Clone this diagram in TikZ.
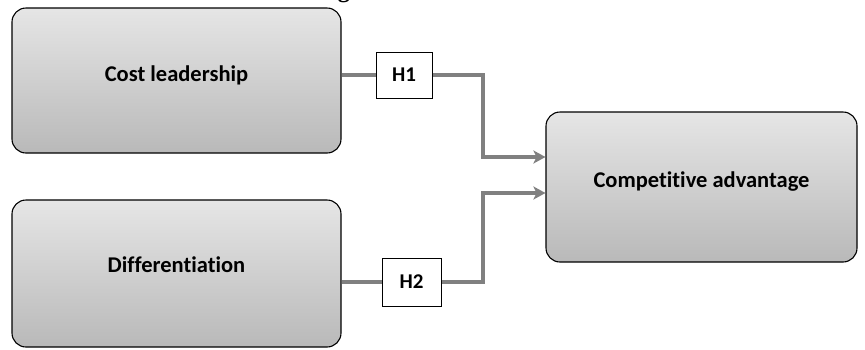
\documentclass[tikz,border=0pt]{standalone}
\usepackage{fontspec}
\setmainfont{Carlito}[RawFeature={-liga;-dlig}]
\newfontfamily\titlefont{Liberation Serif}
\usetikzlibrary{arrows.meta}
\begin{document}
\begin{tikzpicture}[x=1pt,y=-1pt,
  bigbox/.style={draw=black, line width=1.1pt, rounded corners=14pt, inner sep=0pt,
    top color=gray!20, bottom color=gray!55, font=\bfseries\fontsize{22.5}{26}\selectfont},
  hbox/.style={draw=black, line width=1pt, fill=white, inner sep=0pt,
    font=\bfseries\fontsize{21}{24}\selectfont},
  conn/.style={draw=black!50, line width=3.5pt},
  arr/.style={conn, -{Stealth[length=12pt,width=13pt,inset=3pt]}}]
\useasboundingbox (0,0) rectangle (865,349);
\node[anchor=base, font=\titlefont\bfseries\fontsize{24}{28}\selectfont] (title) at (450,-2.5) {Figure 1: Research Model};
\node[bigbox, minimum width=329pt, minimum height=145pt] (cost) at (176.5,80.5) {\raisebox{13pt}{Cost leadership}};
\node[bigbox, minimum width=329pt, minimum height=147pt] (diff) at (176.5,273.5) {\raisebox{17pt}{Differentiation}};
\node[bigbox, minimum width=311pt, minimum height=150pt] (comp) at (701.5,187) {\raisebox{15pt}{Competitive advantage}};
\node[hbox, minimum width=56pt, minimum height=46pt] (h1) at (404,75) {H1};
\node[hbox, minimum width=59pt, minimum height=48pt] (h2) at (411.5,282) {H2};
\coordinate (j1) at (483,157);
\coordinate (j2) at (483,193);
\draw[conn] (h1.west -| cost.east) -- (h1.west);
\draw[conn] (h2.west -| diff.east) -- (h2.west);
\draw[arr] (h1.east) -| (j1) -- (j1 -| comp.west);
\draw[arr] (h2.east) -| (j2) -- (j2 -| comp.west);
\end{tikzpicture}
\end{document}
